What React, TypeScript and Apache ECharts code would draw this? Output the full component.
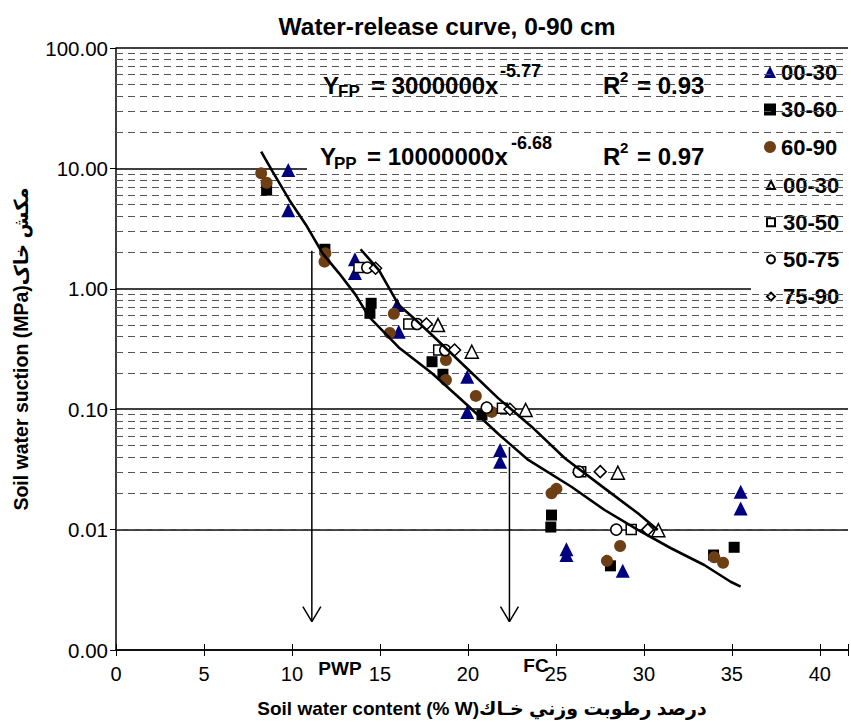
import React, { useEffect, useRef } from "react";
import * as echarts from "echarts";

const FONT = '"Liberation Sans", "DejaVu Sans", Arial, sans-serif';

// Field (filled) series: [water content %, suction MPa]
const fp00_30 = [[9.79, 9.7], [9.79, 4.5], [13.58, 1.76], [13.58, 1.35], [15.98, 0.733], [16.07, 0.44], [19.96, 0.186], [19.96, 0.095], [21.83, 0.0458], [21.83, 0.0366], [25.6, 0.00686], [25.6, 0.00615], [28.8, 0.00456], [35.5, 0.0206], [35.5, 0.015]];
const fp30_60 = [[8.56, 6.6], [11.87, 2.13], [14.5, 0.758], [14.43, 0.626], [17.96, 0.248], [18.58, 0.195], [20.8, 0.0895], [24.75, 0.0132], [24.71, 0.0105], [28.1, 0.005], [33.96, 0.00615], [35.13, 0.00713]];
const fp60_90 = [[8.25, 9.1], [8.56, 7.6], [11.9, 1.97], [11.85, 1.68], [15.79, 0.62], [15.56, 0.43], [18.75, 0.256], [18.75, 0.175], [20.45, 0.129], [21.35, 0.095], [24.75, 0.02], [25.03, 0.0218], [28.65, 0.0073], [27.9, 0.0055], [34.0, 0.00589], [34.5, 0.0053]];
// Pressure plate (open) series
const pp00_30 = [[18.3, 0.5], [20.22, 0.3], [23.28, 0.0985], [28.52, 0.0297], [30.82, 0.0099]];
const pp30_50 = [[13.81, 1.5], [16.64, 0.51], [18.34, 0.31], [21.96, 0.1016], [26.41, 0.0303], [29.28, 0.01]];
const pp50_75 = [[14.28, 1.5], [17.11, 0.51], [18.71, 0.31], [21.07, 0.103], [26.3, 0.0303], [28.43, 0.01]];
const pp75_90 = [[14.75, 1.48], [17.64, 0.51], [19.24, 0.31], [22.39, 0.1], [27.52, 0.0303], [30.22, 0.01]];

// Trend curves
const fitFP = [[8.25, 13.8], [8.9, 9.39], [9.85, 5.47], [10.8, 3.39], [11.74, 1.97], [12.68, 1.345], [13.62, 0.891], [14.37, 0.587], [16.07, 0.326], [17.96, 0.199], [19.85, 0.112], [21.73, 0.0622], [23.43, 0.0379], [25.88, 0.0227], [27.77, 0.01455], [29.66, 0.00993], [31.54, 0.007], [33.43, 0.00508], [34.93, 0.00369], [35.5, 0.00336]];
const fitPP = [[13.9, 2.13], [14.94, 1.43], [16.07, 0.733], [16.83, 0.587], [17.96, 0.413], [19.85, 0.225], [21.73, 0.123], [23.62, 0.0716], [25.51, 0.0391], [27.77, 0.022], [29.66, 0.01365], [30.79, 0.00993]];

// PWP and FC arrows
const pwpShaft = [[11.13, 2.07], [11.13, 0.00172]];
const pwpHead = [[10.62, 0.00229], [11.13, 0.00172], [11.64, 0.00229]];
const fcShaft = [[22.36, 0.0486], [22.36, 0.00172]];
const fcHead = [[21.85, 0.00229], [22.36, 0.00172], [22.87, 0.00229]];

// Axis
const xTicks = [0, 5, 10, 15, 20, 25, 30, 35, 40];
const decades = [0.001, 0.01, 0.1, 1, 10];
const mantissas = [2, 3, 4, 5, 6, 7, 8, 9];
const minorLines = decades.flatMap((d) => mantissas.map((m) => +(d * m).toPrecision(3)));

const legendFilled = ["F 00-30", "F 30-60", "F 60-90"];
const legendOpen = ["P 00-30", "P 30-50", "P 50-75", "P 75-90"];

function txt(t: string, x: number, y: number, size: number, align = "left") {
  return {
    type: "text",
    x,
    y,
    z: 10,
    silent: true,
    style: {
      text: t,
      fill: "#000",
      fontSize: size,
      fontWeight: "bold",
      fontFamily: FONT,
      align,
      verticalAlign: "middle",
    },
  };
}

const legendText = { fontSize: 22, fontWeight: "bold", color: "#000", fontFamily: FONT, lineHeight: 22 };

export default function App() {
  const ref = useRef<HTMLDivElement>(null);
  useEffect(() => {
    if (!ref.current) return;
    const chart = echarts.init(ref.current, undefined, { renderer: "svg" });
    const scatterBase = { type: "scatter", z: 5, xAxisIndex: 0, yAxisIndex: 0 };
    const openStyle = { color: "#fff", borderColor: "#000", borderWidth: 1.5, opacity: 1 };
    const lineBase = { type: "line", symbol: "none", z: 6, silent: true, lineStyle: { color: "#000", width: 1.5 } };
    chart.setOption({
      animation: false,
      textStyle: { fontFamily: FONT },
      title: {
        text: "Water-release curve, 0-90 cm",
        left: 447,
        top: 14,
        textAlign: "center",
        padding: 0,
        textStyle: { fontSize: 24.5, fontWeight: "bold", color: "#000", fontFamily: FONT },
      },
      grid: { left: 116, top: 48, right: 0, bottom: 73, containLabel: false },
      legend: [
        {
          orient: "vertical",
          left: 764,
          top: 61,
          padding: 0,
          itemWidth: 12,
          itemHeight: 12,
          itemGap: 15.5,
          data: legendFilled,
          formatter: (n: string) => n.slice(2),
          textStyle: legendText,
        },
        {
          orient: "vertical",
          left: 766,
          top: 174,
          padding: 0,
          itemWidth: 8,
          itemHeight: 8,
          itemGap: 15.2,
          data: legendOpen,
          formatter: (n: string) => n.slice(2),
          textStyle: { ...legendText, padding: [0, 0, 0, 3] },
        },
      ],
      xAxis: [
        {
          type: "value",
          min: 0,
          max: 41.6,
          interval: 5,
          axisLine: { lineStyle: { color: "#000", width: 1.5 } },
          axisTick: { length: 6, lineStyle: { color: "#000" } },
          axisLabel: {
            formatter: (v: number) => (xTicks.includes(v) ? String(v) : ""),
            fontSize: 20,
            color: "#000",
            margin: 14,
            fontFamily: FONT,
          },
          splitLine: { show: false },
          name: "Soil water content (% W)درصد رطوبت وزني خـاك",
          nameLocation: "middle",
          nameGap: 49,
          nameTextStyle: { fontSize: 19, fontWeight: "bold", color: "#000", fontFamily: FONT },
        },
        {
          type: "value",
          min: 0,
          max: 41.6,
          interval: 5,
          position: "bottom",
          axisLine: { show: false },
          axisTick: { inside: true, length: 6, lineStyle: { color: "#000" } },
          axisLabel: { show: false },
          splitLine: { show: false },
        },
      ],
      yAxis: {
        type: "log",
        logBase: 10,
        min: 0.001,
        max: 100,
        axisLine: { show: true, lineStyle: { color: "#000", width: 1.5 } },
        axisTick: { show: true, length: 6, lineStyle: { color: "#000" } },
        axisLabel: { formatter: (v: number) => v.toFixed(2), fontSize: 20.5, color: "#000", margin: 8, fontFamily: FONT },
        splitLine: { show: true, lineStyle: { color: "#000", width: 1.6 } },
        name: "Soil water suction (MPa)مکش خاک",
        nameLocation: "middle",
        nameGap: 85,
        nameTextStyle: { fontSize: 19.5, fontWeight: "bold", color: "#000", fontFamily: FONT },
      },
      graphic: {
        elements: [
          { type: "rect", z: 3, silent: true, shape: { x: 307, y: 50, width: 444, height: 134 }, style: { fill: "#fff" } },
          { type: "rect", z: 3, silent: true, shape: { x: 751, y: 50, width: 100, height: 270 }, style: { fill: "#fff" } },
          txt("Y", 323, 85, 24),
          txt("FP", 338, 91, 17),
          txt("= 3000000x", 371, 85, 24),
          txt("-5.77", 500, 71, 18),
          txt("R", 603, 85, 24),
          txt("2", 620, 76, 15),
          txt("= 0.93", 637, 85, 24),
          txt("Y", 320, 156, 24),
          txt("PP", 334, 163, 17),
          txt("= 10000000x", 367, 156, 24),
          txt("-6.68", 511, 143, 18),
          txt("R", 603, 156, 24),
          txt("2", 620, 147, 15),
          txt("= 0.97", 637, 156, 24),
          txt("PWP", 340, 668, 19, "center"),
          txt("FC", 536, 665, 19, "center"),
        ],
      },
      series: [
        {
          type: "line",
          name: "minor",
          data: [[0, 0.001]],
          symbol: "none",
          silent: true,
          z: 1,
          markLine: {
            silent: true,
            symbol: ["none", "none"],
            label: { show: false },
            lineStyle: { color: "#555", width: 1, type: [7, 5] },
            data: minorLines.map((v) => ({ yAxis: v })),
          },
        },
        { ...scatterBase, name: "F 00-30", data: fp00_30, symbol: "triangle", symbolSize: 14, itemStyle: { color: "#000080", opacity: 1 } },
        { ...scatterBase, name: "F 30-60", data: fp30_60, symbol: "rect", symbolSize: 11, itemStyle: { color: "#000", opacity: 1 } },
        { ...scatterBase, name: "F 60-90", data: fp60_90, symbol: "circle", symbolSize: 12, itemStyle: { color: "#6e3f14", opacity: 1 } },
        { ...scatterBase, name: "P 00-30", data: pp00_30, symbol: "triangle", symbolSize: 13, itemStyle: openStyle },
        { ...scatterBase, name: "P 30-50", data: pp30_50, symbol: "rect", symbolSize: 10, itemStyle: openStyle },
        { ...scatterBase, name: "P 50-75", data: pp50_75, symbol: "circle", symbolSize: 11, itemStyle: openStyle },
        { ...scatterBase, name: "P 75-90", data: pp75_90, symbol: "diamond", symbolSize: 12, itemStyle: openStyle },
        { ...lineBase, name: "fitFP", data: fitFP, lineStyle: { color: "#000", width: 2.6 } },
        { ...lineBase, name: "fitPP", data: fitPP, lineStyle: { color: "#000", width: 2.6 } },
        { ...lineBase, name: "pwpShaft", data: pwpShaft },
        { ...lineBase, name: "pwpHead", data: pwpHead },
        { ...lineBase, name: "fcShaft", data: fcShaft },
        { ...lineBase, name: "fcHead", data: fcHead },
      ],
    });
    return () => chart.dispose();
  }, []);
  return <div ref={ref} style={{ position: "absolute", left: 0, top: 0, width: 851, height: 723 }} />;
}
